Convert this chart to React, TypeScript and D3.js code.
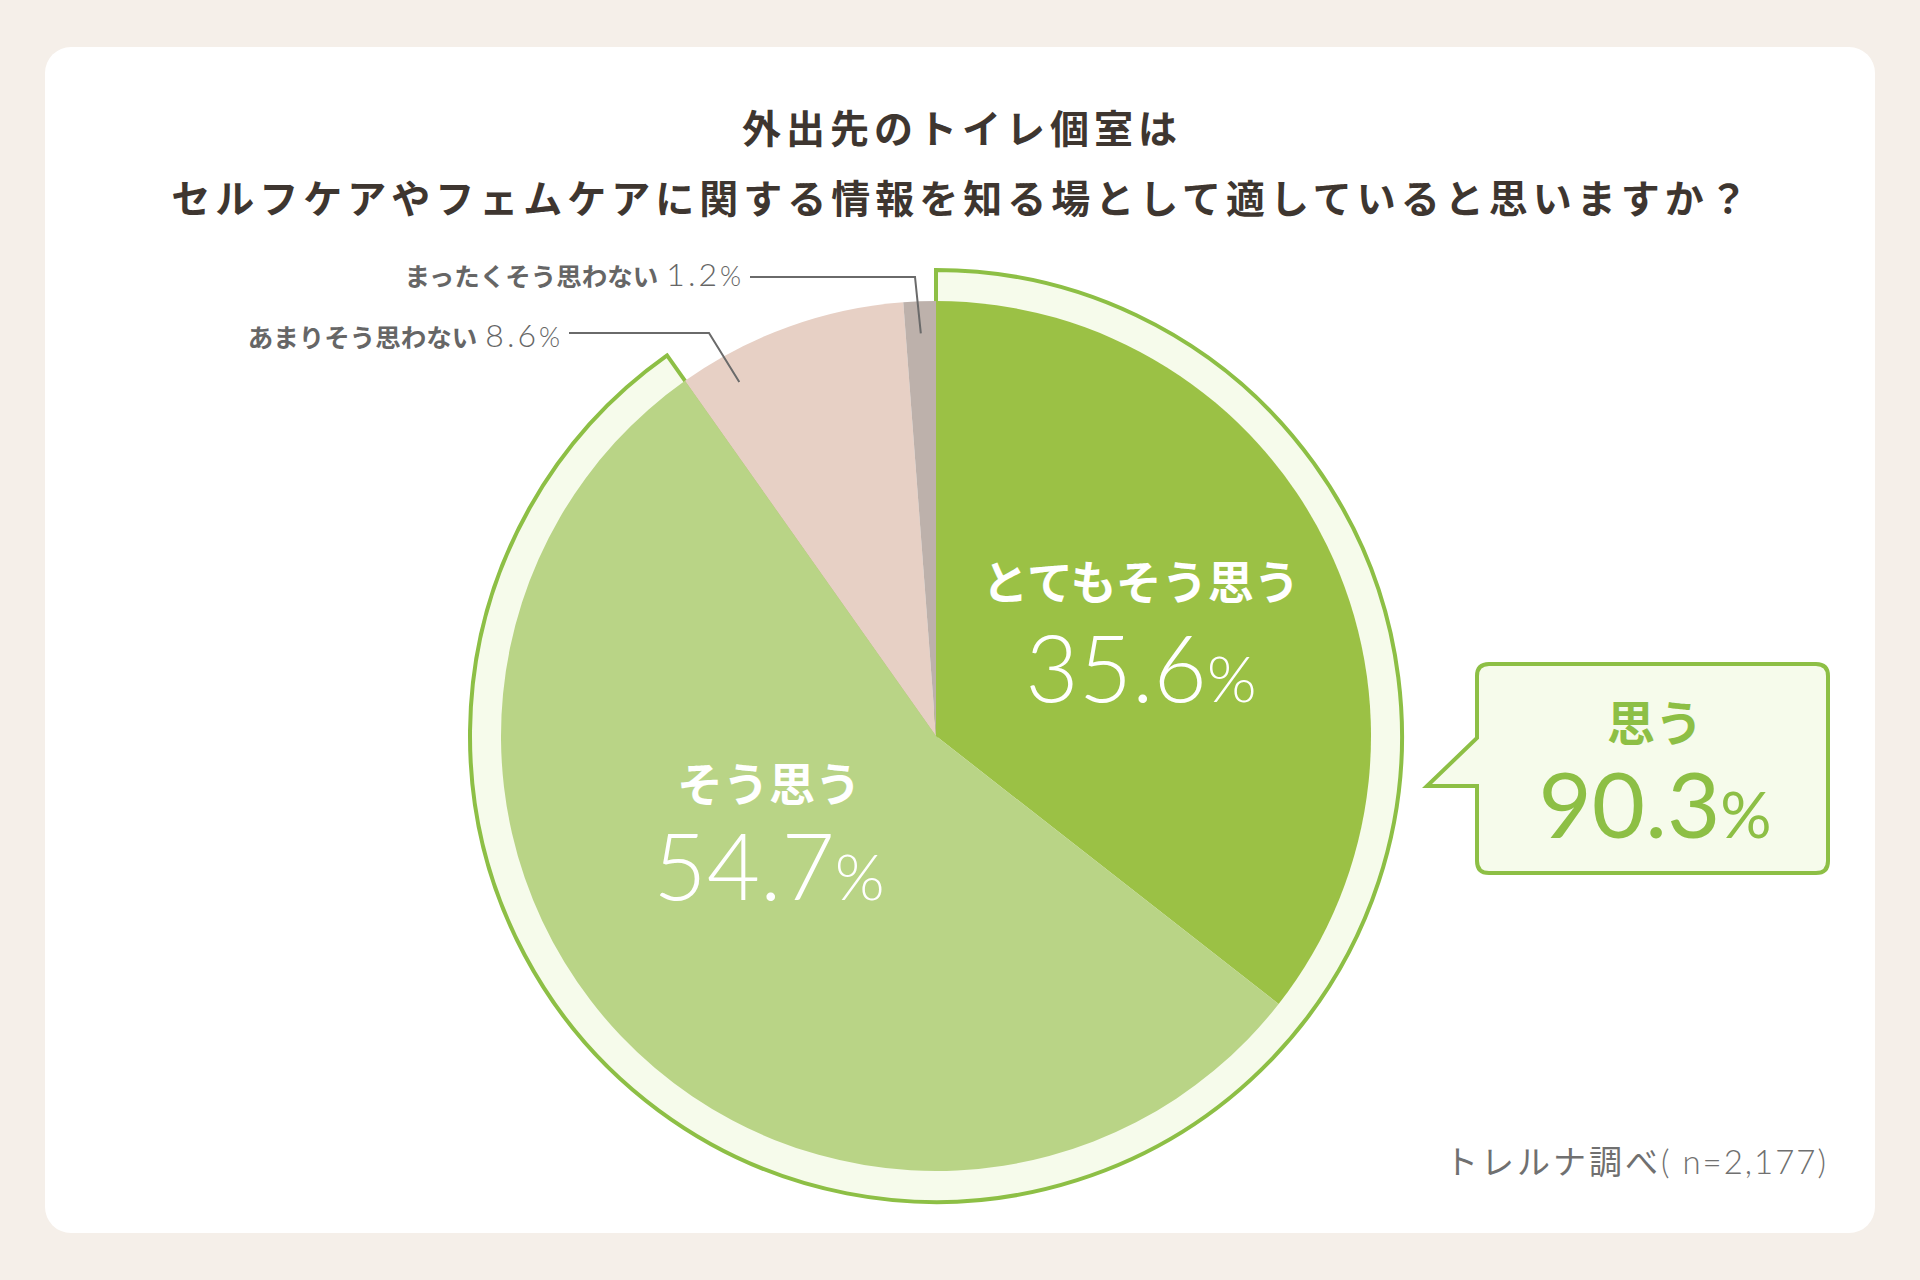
import React from "react";
import * as d3 from "d3";

// ---- data ----
const categories = ["とてもそう思う", "そう思う", "あまりそう思わない", "まったくそう思わない"];
const values = [35.6, 54.7, 8.6, 1.2];
const sliceColors = ["#9bc145", "#b9d486", "#e7d0c5", "#bdb1ab"];
const agreeLabel = "思う";
const agreeValue = 90.3;
const titleLines = [
  "外出先のトイレ個室は",
  "セルフケアやフェムケアに関する情報を知る場として適していると思いますか？",
];
const sourceNote = "トレルナ調べ";
const sampleNote = "( n=2,177)";

// ---- layout ----
const W = 1920;
const H = 1280;
const CX = 936;
const CY = 736;
const R = 435;
const RING_R = 466;
const GREEN = "#8dbf45";
const JP = "'Noto Sans CJK JP', 'Noto Sans', sans-serif";
const NUM = "Lato, 'Noto Sans', sans-serif";

export default function App() {
  const pie = d3.pie<number>().sort(null).value((d) => d);
  const arcs = pie(values);
  const arc = d3.arc<d3.PieArcDatum<number>>().innerRadius(0).outerRadius(R);
  const ringArc = d3
    .arc<any>()
    .innerRadius(0)
    .outerRadius(RING_R)({ startAngle: arcs[0].startAngle, endAngle: arcs[1].endAngle } as any) as string;

  // point on a radius at an angle (d3 convention: 0 at top, clockwise)
  const pt = (r: number, a: number): [number, number] => [r * Math.sin(a), -r * Math.cos(a)];

  // inner slice labels
  const inner = [
    { i: 0, x: 1141 - CX, y1: 599 - CY, y2: 702 - CY },
    { i: 1, x: 769 - CX, y1: 801 - CY, y2: 900 - CY },
  ];

  // outer leader labels
  const a3 = arcs[2].startAngle + 0.2 * (arcs[2].endAngle - arcs[2].startAngle);
  const a4 = (arcs[3].startAngle + arcs[3].endAngle) / 2;
  const outer = [
    { i: 3, end: pt(403, a4), elbow: [915 - CX, 277 - CY], lineStart: 750 - CX, textX: 741 - CX, base: 286 - CY },
    { i: 2, end: pt(405, a3), elbow: [709 - CX, 333 - CY], lineStart: 569 - CX, textX: 560 - CX, base: 347 - CY },
  ];

  const fmt = (v: number) => v.toFixed(1);

  return (
    <div style={{ position: "absolute", left: 0, top: 0 }}>
      <svg width={W} height={H} style={{ display: "block" }}>
        <rect x={0} y={0} width={W} height={H} fill="#f5efe9" />
        <rect x={45} y={47} width={1830} height={1186} rx={26} fill="#ffffff" />

        {/* title */}
        {titleLines.map((t, k) => (
          <text
            key={k}
            x={962}
            y={143 + k * 70}
            textAnchor="middle"
            fontFamily={JP}
            fontWeight={700}
            fontSize={39}
            letterSpacing={5}
            fill="#3e3630"
          >
            {t}
          </text>
        ))}

        <g transform={`translate(${CX},${CY})`}>
          {/* outer ring for 思う */}
          <path d={ringArc} fill="#f6fbeb" stroke={GREEN} strokeWidth={4} strokeLinejoin="miter" />

          {/* pie slices */}
          {arcs.map((a, i) => (
            <path key={i} d={arc(a) as string} fill={sliceColors[i]} />
          ))}

          {/* inner labels */}
          {inner.map((l) => (
            <g key={l.i}>
              <text
                x={l.x}
                y={l.y1}
                textAnchor="middle"
                fontFamily={JP}
                fontWeight={700}
                fontSize={46}
                fill="#ffffff"
              >
                {categories[l.i]}
              </text>
              <text
                x={l.x}
                y={l.y2}
                textAnchor="middle"
                fontFamily={NUM}
                fontWeight={300}
                fontSize={92}
                fill="#ffffff"
              >
                {fmt(values[l.i])}
                <tspan fontSize={64}>%</tspan>
              </text>
            </g>
          ))}

          {/* leader labels */}
          {outer.map((l) => (
            <g key={l.i}>
              <polyline
                points={`${l.lineStart},${l.elbow[1]} ${l.elbow[0]},${l.elbow[1]} ${l.end[0]},${l.end[1]}`}
                fill="none"
                stroke="#6a6a6a"
                strokeWidth={2}
              />
              <text x={l.textX} y={l.base} textAnchor="end" fill="#666666">
                <tspan fontFamily={JP} fontWeight={700} fontSize={25.5}>
                  {categories[l.i]}
                </tspan>
                <tspan fontFamily={NUM} fontWeight={300} fontSize={32} dx={8} letterSpacing={3}>
                  {fmt(values[l.i])}
                </tspan>
                <tspan fontFamily={NUM} fontWeight={300} fontSize={27}>
                  %
                </tspan>
              </text>
            </g>
          ))}
        </g>

        {/* callout */}
        <path
          d={`M1489,664 H1816 Q1828,664 1828,676 V861 Q1828,873 1816,873 H1489 Q1477,873 1477,861 V786 H1427 L1477,738 V676 Q1477,664 1489,664 Z`}
          fill="#f6fbeb"
          stroke={GREEN}
          strokeWidth={4}
          strokeLinejoin="miter"
        />
        <text x={1655} y={741} textAnchor="middle" fontFamily={JP} fontWeight={700} fontSize={48} fill={GREEN}>
          {agreeLabel}
        </text>
        <text x={1655} y={838} textAnchor="middle" fontFamily={NUM} fontWeight={400} fontSize={92} fill={GREEN}>
          {fmt(agreeValue)}
          <tspan fontSize={64}>%</tspan>
        </text>

        {/* source */}
        <text x={1828} y={1174} textAnchor="end" fill="#707070" fontSize={33}>
          <tspan fontFamily={JP} fontWeight={400} letterSpacing={3}>
            {sourceNote}
          </tspan>
          <tspan fontFamily={NUM} fontWeight={300} letterSpacing={2}>
            {sampleNote}
          </tspan>
        </text>
      </svg>
    </div>
  );
}
